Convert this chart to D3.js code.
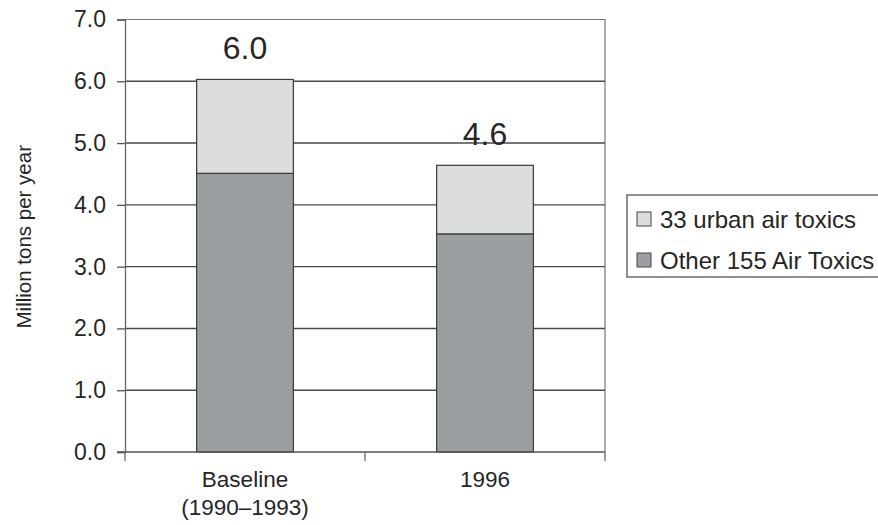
<!DOCTYPE html>
<html>
<head>
<meta charset="utf-8">
<script src="https://cdn.jsdelivr.net/npm/d3@7"></script>
<style>
  html, body { margin: 0; padding: 0; background: #fff; }
  svg { display: block; font-family: Arial, "Liberation Sans", Helvetica, sans-serif; }
</style>
</head>
<body>
<svg id="chart" width="878" height="525"></svg>
<script>
// Emissions of air toxics, million tons per year
const categories = ["Baseline\n(1990\u20131993)", "1996"];
const otherAirToxics = [4.51, 3.53];   // Other 155 Air Toxics
const urbanAirToxics = [1.52, 1.11];   // 33 urban air toxics
const totalLabels = ["6.0", "4.6"];
const yTickValues = [0, 1, 2, 3, 4, 5, 6, 7];
const seriesNames = ["33 urban air toxics", "Other 155 Air Toxics"];
const seriesColors = ["#dcdddf", "#9c9fa1"];

const svg = d3.select("#chart");
const margin = { left: 125, top: 19.5, right: 273, bottom: 73 };
const W = 878, H = 525;
const x0 = margin.left, x1 = W - margin.right;
const y0 = H - margin.bottom, y1 = margin.top;

const x = d3.scaleBand().domain(categories).range([x0, x1]).paddingInner(0).paddingOuter(0);
const y = d3.scaleLinear().domain([0, 7]).range([y0, y1]);

const ink = "#262626";
const gridColor = "#4a4a4a";

// Plot frame (top and right edges)
svg.append("path")
  .attr("d", `M${x0},${y1}H${x1}V${y0}`)
  .attr("fill", "none").attr("stroke", "#777").attr("stroke-width", 1.2);

// Horizontal gridlines across the plot
svg.append("g").selectAll("line")
  .data(yTickValues.filter(v => v > 0 && v < 7))
  .join("line")
  .attr("x1", x0).attr("x2", x1)
  .attr("y1", d => y(d)).attr("y2", d => y(d))
  .attr("stroke", gridColor).attr("stroke-width", 1.4);

// Y axis
const yAxis = d3.axisLeft(y).tickValues(yTickValues).tickFormat(d3.format(".1f"))
  .tickSize(8).tickPadding(11);
const gy = svg.append("g").attr("transform", `translate(${x0},0)`).call(yAxis);
gy.select(".domain").attr("stroke", "#666").attr("stroke-width", 1.3);
gy.selectAll(".tick line").attr("stroke", "#555").attr("stroke-width", 1.3);
gy.selectAll(".tick text").attr("fill", ink).style("font-size", "23px")
  .style("font-family", "Arial, 'Liberation Sans', sans-serif");

// Stacked bars
const barW = x.bandwidth() * 0.403;
const stacks = categories.map((c, i) => ({
  cat: c,
  segs: [
    { lo: 0, hi: otherAirToxics[i], color: seriesColors[1] },
    { lo: otherAirToxics[i], hi: otherAirToxics[i] + urbanAirToxics[i], color: seriesColors[0] }
  ],
  label: totalLabels[i],
  total: otherAirToxics[i] + urbanAirToxics[i]
}));

const barG = svg.append("g");
stacks.forEach(s => {
  const cx = x(s.cat) + x.bandwidth() / 2;
  barG.selectAll(null).data(s.segs).join("rect")
    .attr("x", cx - barW / 2)
    .attr("width", barW)
    .attr("y", d => y(d.hi))
    .attr("height", d => y(d.lo) - y(d.hi))
    .attr("fill", d => d.color)
    .attr("stroke", "#3a3a3a").attr("stroke-width", 1.2);
  barG.append("text")
    .attr("x", cx).attr("y", y(s.total) - 20)
    .attr("text-anchor", "middle")
    .attr("fill", ink)
    .style("font-size", "32px")
    .text(s.label);
});

// X axis baseline and category boundary ticks
svg.append("line")
  .attr("x1", x0 - 8).attr("x2", x1).attr("y1", y0).attr("y2", y0)
  .attr("stroke", "#555").attr("stroke-width", 1.3);
const boundaries = categories.map(c => x(c)).concat([x.range()[1]]);
svg.append("g").selectAll("line").data(boundaries).join("line")
  .attr("x1", d => d).attr("x2", d => d)
  .attr("y1", y0).attr("y2", y0 + 9)
  .attr("stroke", "#666").attr("stroke-width", 1.3);

// Category labels (multi-line)
const xl = svg.append("g");
categories.forEach(c => {
  const t = xl.append("text")
    .attr("x", x(c) + x.bandwidth() / 2)
    .attr("y", y0 + 35)
    .attr("text-anchor", "middle")
    .attr("fill", ink)
    .style("font-size", "22.5px");
  c.split("\n").forEach((line, k) => {
    t.append("tspan").attr("x", x(c) + x.bandwidth() / 2)
      .attr("dy", k === 0 ? 0 : 28).text(line);
  });
});

// Y axis title
svg.append("text")
  .attr("transform", `translate(31,${(y0 + y1) / 2 + 1}) rotate(-90)`)
  .attr("text-anchor", "middle")
  .attr("fill", ink)
  .style("font-size", "20.5px")
  .text("Million tons per year");

// Legend
const lg = svg.append("g").attr("transform", "translate(627,195)");
lg.append("rect").attr("x", 0).attr("y", 0).attr("width", 260).attr("height", 82)
  .attr("fill", "#fff").attr("stroke", "#444").attr("stroke-width", 1.2);
seriesNames.forEach((name, i) => {
  const cy = 24 + i * 41;
  lg.append("rect").attr("x", 10).attr("y", cy - 7).attr("width", 14).attr("height", 14)
    .attr("fill", seriesColors[i]).attr("stroke", "#444").attr("stroke-width", 1);
  lg.append("text").attr("x", 33).attr("y", cy + 8.5)
    .attr("fill", ink).style("font-size", "24px").text(name);
});
</script>
</body>
</html>
